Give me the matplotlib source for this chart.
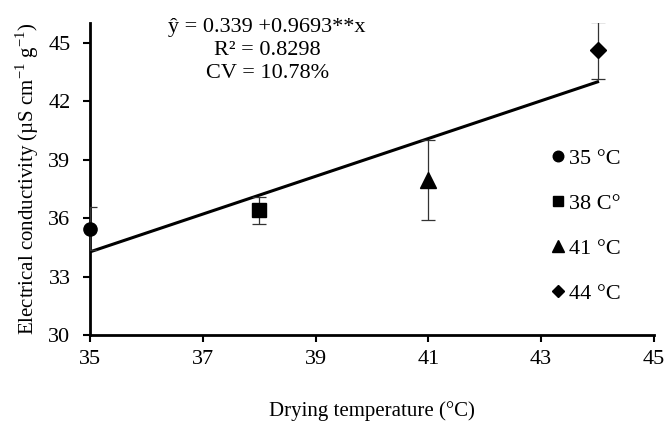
import matplotlib
matplotlib.use('Agg')
import matplotlib.pyplot as plt
import numpy as np

plt.rcParams['font.family'] = ['Liberation Serif', 'DejaVu Serif']
plt.rcParams['mathtext.fontset'] = 'custom'
plt.rcParams['mathtext.rm'] = 'Liberation Serif'

# Data
temps = [35, 38, 41, 44]
conductivity = [35.45, 36.4, 37.95, 44.6]
errors = [1.1, 0.68, 2.05, 1.45]
labels = ['35 °C', '38 C°', '41 °C', '44 °C']
markers = ['o', 's', '^', 'D']
marker_sizes = [9.5, 9.5, 11, 8]

intercept = 0.339
slope = 0.9693

fig = plt.figure(figsize=(6.68, 4.21), dpi=100)
ax = fig.add_axes([0.1347, 0.2043, 0.979 - 0.1347, 0.945 - 0.2043])

# Regression line
xl = np.array([temps[0], temps[-1]])
ax.plot(xl, intercept + slope * xl, color='black', linewidth=2.2, zorder=2)

# Points with error bars
for t, c, e, lab, m, ms in zip(temps, conductivity, errors, labels, markers, marker_sizes):
    ax.errorbar(t, c, yerr=e, fmt='none', ecolor='#333333', elinewidth=0.9,
                capsize=5, capthick=0.9, zorder=3)
    ax.plot(t, c, marker=m, color='black', markersize=ms, linestyle='none',
            label=lab, zorder=4, clip_on=False)

ax.set_xlim(35, 45)
ax.set_ylim(30, 46)
ax.set_xticks([35, 37, 39, 41, 43, 45])
ax.set_yticks([30, 33, 36, 39, 42, 45])
ax.tick_params(labelsize=16, direction='out', length=5, width=1.5, colors='black')
ax.tick_params(axis='x', pad=6)
ax.tick_params(axis='y', pad=9)

for s in ['top', 'right']:
    ax.spines[s].set_visible(False)
for s in ['left', 'bottom']:
    ax.spines[s].set_linewidth(2)

ax.set_xlabel('Drying temperature (°C)', fontsize=15, labelpad=23)
ax.set_ylabel(r'Electrical conductivity (µS cm$^{\mathregular{-1}}$ g$^{\mathregular{-1}}$)',
              fontsize=15, labelpad=5)

ax.text(0.314, 1.017, 'ŷ = 0.339 +0.9693**x\nR² = 0.8298\nCV = 10.78%',
        transform=ax.transAxes, ha='center', va='top', fontsize=16, linespacing=1.28)

leg = ax.legend(loc='center left', bbox_to_anchor=(0.775, 0.35), frameon=False,
                fontsize=16, handletextpad=0.0, labelspacing=1.1, markerscale=0.8,
                handlelength=1.0)

fig.savefig('out.png', dpi=100)
